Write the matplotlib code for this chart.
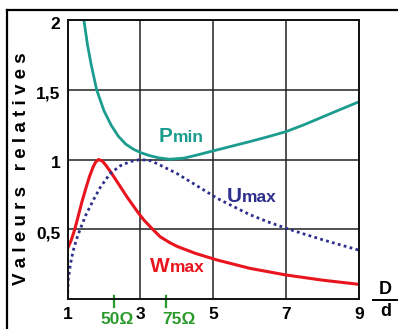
import numpy as np
import matplotlib
matplotlib.use("Agg")
import matplotlib.pyplot as plt
from matplotlib.lines import Line2D
from matplotlib.transforms import ScaledTranslation

plt.rcParams['font.family'] = ['Liberation Sans', 'DejaVu Sans']
plt.rcParams['font.weight'] = 'bold'

# curves (x = D/d)
pmin_x = [1.45, 1.55, 1.65, 1.8, 2.0, 2.2, 2.4, 2.6, 2.8, 3.0, 3.25, 3.5, 3.8,
          4.2, 4.6, 5.0, 5.5, 6.0, 6.5, 7.0, 7.5, 8.0, 8.5, 9.0]
pmin_y = [2.0, 1.82, 1.68, 1.50, 1.35, 1.245, 1.165, 1.11, 1.075, 1.05, 1.028, 1.012, 1.002,
          1.01, 1.035, 1.062, 1.095, 1.128, 1.163, 1.20, 1.25, 1.305, 1.36, 1.414]

wmax_x = [1.0, 1.1, 1.2, 1.3, 1.4, 1.5, 1.6, 1.7, 1.77, 1.85, 1.95, 2.05, 2.2, 2.35,
          2.5, 2.65, 2.8, 2.95, 3.1, 3.3, 3.54, 3.8, 4.0, 4.5, 5.1, 6.0, 7.0, 8.0, 9.0]
wmax_y = [0.36, 0.42, 0.50, 0.60, 0.70, 0.79, 0.875, 0.945, 0.98, 1.0, 0.99, 0.96, 0.905, 0.845,
          0.785, 0.725, 0.67, 0.615, 0.565, 0.51, 0.447, 0.405, 0.378, 0.328, 0.28, 0.22, 0.172, 0.135, 0.105]

umax_x = [1.0, 1.02, 1.08, 1.16, 1.25, 1.34, 1.5, 1.71, 1.9, 2.17, 2.45, 2.72, 3.0,
          3.3, 3.54, 3.81, 4.0, 4.5, 5.12, 5.5, 6.0, 6.5, 7.0, 7.5, 8.0, 8.5, 9.0]
umax_y = [0.0, 0.136, 0.25, 0.35, 0.43, 0.495, 0.60, 0.71, 0.80, 0.90, 0.955, 0.985, 1.0,
          0.99, 0.96, 0.925, 0.90, 0.82, 0.72, 0.67, 0.605, 0.553, 0.507, 0.465, 0.425, 0.387, 0.35]

xticks = [1, 3, 5, 7, 9]
yticks = [0.5, 1, 1.5, 2]
ylabels = ["0,5", "1", "1,5", "2"]
imp_x = [2.28, 3.70]
imp_lab = ["50Ω", "75Ω"]

teal = '#1b9c8e'
red = '#e8141e'
navy = '#2e2e8c'
green = '#2a9a2a'

fig = plt.figure(figsize=(3.98, 3.29), dpi=100)
ax = fig.add_axes([67.5/398, 30/329, (359-67.5)/398, (299-20)/329])
ax.set_xlim(1, 9)
ax.set_ylim(0, 2)

ax.set_xticks(xticks)
ax.set_yticks(yticks)
ax.set_xticklabels([str(t) for t in xticks], fontsize=12.5, fontweight='bold')
ax.set_yticklabels(ylabels, fontsize=12.5, fontweight='bold')
ax.tick_params(axis='y', length=0, pad=5)
ax.tick_params(axis='x', length=0, pad=6)
# labels sit a little below their grid lines in the original
shift = ScaledTranslation(0, -3/100, fig.dpi_scale_trans)
for tk in ax.yaxis.get_major_ticks():
    tk.label1.set_transform(tk.label1.get_transform() + shift)
ax.grid(True, color='#222222', lw=1.1)
for s in ax.spines.values():
    s.set_linewidth(1.4)
    s.set_color('#111111')

ax.plot(pmin_x, pmin_y, color=teal, lw=2.0)
ax.plot(wmax_x, wmax_y, color=red, lw=2.2)
ax.plot(umax_x, umax_y, color=navy, lw=2.0, linestyle=(0, (1, 1.2)))

# curve labels
ax.text(3.88, 1.125, "P", color=teal, fontsize=15, fontweight='bold', ha='right', va='baseline')
ax.text(3.88, 1.125, "min", color=teal, fontsize=12.5, fontweight='bold', ha='left', va='baseline')
ax.text(5.79, 0.697, "U", color=navy, fontsize=15, fontweight='bold', ha='right', va='baseline')
ax.text(5.79, 0.697, "max", color=navy, fontsize=12.5, fontweight='bold', ha='left', va='baseline')
ax.text(3.81, 0.19, "W", color=red, fontsize=15, fontweight='bold', ha='right', va='baseline')
ax.text(3.81, 0.19, "max", color=red, fontsize=12.5, fontweight='bold', ha='left', va='baseline')

# impedance marks
for xv, lab, dx in zip(imp_x, imp_lab, [0.07, 0.35]):
    ax.plot([xv, xv], [-0.06, 0.02], color=green, lw=1.6, clip_on=False)
    ax.text(xv + dx, -0.15, lab, color=green, fontsize=12.5, fontweight='bold',
            ha='center', va='center')

ax.set_ylabel("V a l e u r s   r e l a t i v e s", fontsize=13.5, fontweight='bold')
ax.yaxis.set_label_coords(-0.128, 0.468)

# D/d fraction
fig.text(385.5/398, 1 - 290/329, "D", fontsize=13, fontweight='bold', ha='center', va='center')
fig.text(385.5/398, 1 - 311/329, "d", fontsize=13, fontweight='bold', ha='center', va='center')
fig.add_artist(Line2D([373/398, 397/398], [1 - 300/329, 1 - 300/329], color='black', lw=1.4))

# outer frame
fig.add_artist(Line2D([7.5/398, 7.5/398], [0, 1 - 10/329], color='black', lw=1.6))
fig.add_artist(Line2D([7.5/398, 1], [1 - 10/329, 1 - 10/329], color='black', lw=1.6))

fig.savefig("out.png", dpi=100)
